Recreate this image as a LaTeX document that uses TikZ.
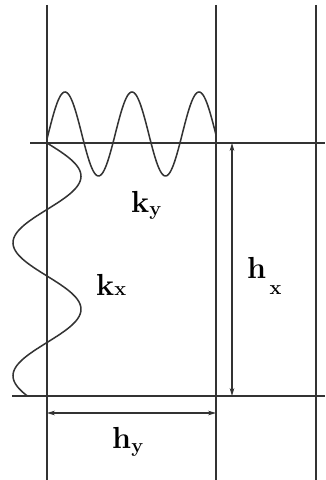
\documentclass[tikz,border=0pt]{standalone}
\usepackage{fontspec}
\usepackage{xcolor}
\usepackage{tikz}
\usetikzlibrary{arrows.meta}
\definecolor{inkx}{HTML}{333333}
\newcommand{\lblsub}[3]{\textbf{#1}\raisebox{#3}{\fontsize{17}{20}\selectfont\textbf{#2}}}
\tikzset{
  wall/.style={line width=1.6pt,inkx},
  wave/.style={line width=1.3pt,inkx},
  dim/.style={{Stealth[length=2.4mm,width=1.4mm]}-{Stealth[length=2.4mm,width=1.4mm]},line width=1pt,inkx},
  lbl/.style={font=\fontsize{26}{30}\selectfont,inner sep=0pt,anchor=base west,text=black}
}
\begin{document}
\begin{tikzpicture}[x=0.03cm,y=-0.03cm]
\useasboundingbox (0,0) rectangle (325,480);
\coordinate (L1) at (47,5); \coordinate (L2) at (47,480);
\coordinate (M1) at (216,5); \coordinate (M2) at (216,480);
\coordinate (R1) at (316,5); \coordinate (R2) at (316,480);
\coordinate (T1) at (30,143); \coordinate (T2) at (325,143);
\coordinate (B1) at (12,396); \coordinate (B2) at (325,396);
\draw[wall] (L1)--(L2) (M1)--(M2) (R1)--(R2);
\draw[wall] (T1)--(T2) (B1)--(B2);
\draw[wave] plot[domain=47:216,samples=140] (\x,{134-42*sin(5.3731*(\x-48.25))});
\draw[wave] plot[domain=143:396,samples=160] ({47+34*sin(2.7068*(\x-143))},\x);
\coordinate (hxt) at (232,143); \coordinate (hxb) at (232,396);
\coordinate (hyl) at (47,413); \coordinate (hyr) at (216,413);
\draw[dim] (hxb)--(hxt);
\draw[dim] (hyl)--(hyr);
\node[lbl] (ky) at (131,212) {\lblsub{k}{y}{-0.12em}};
\node[lbl] (kx) at (96,295) {\lblsub{k}{x}{0em}};
\node[lbl] (hx) at (247,278) {\lblsub{h}{\,x}{-0.55em}};
\node[lbl] (hy) at (112,448) {\lblsub{h}{y}{-0.15em}};
\end{tikzpicture}
\end{document}
